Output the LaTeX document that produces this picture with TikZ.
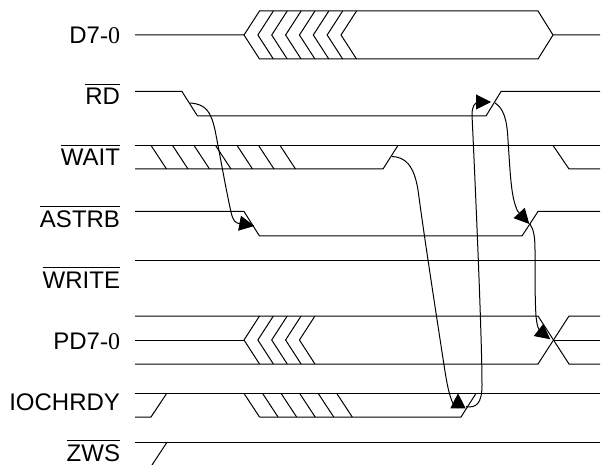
\documentclass[tikz,border=0pt]{standalone}
\usepackage{fontspec}
\setmainfont{Liberation Sans}
\newfontfamily\serifpart{Liberation Serif}
\usetikzlibrary{arrows.meta}
% signal name with a bar over it
\newcommand{\barred}[1]{\vbox{\hrule height 1pt\kern 3.2pt\hbox{#1}}}

\begin{document}
\begin{tikzpicture}[x=1pt, y=-1pt, line width=1pt, color=black,
    signame/.style={anchor=base east, inner sep=0pt, font=\fontsize{24}{28}\selectfont},
    cause/.style={line width=1pt, -{Triangle[length=15pt, width=15pt]}}]
        \useasboundingbox (0,0) rectangle (605,465);

        % Signal names
        \node[signame] (d) at (120.5,44) {D7{\serifpart -0}};
        \node[signame] (rd) at (120.5,104.7) {\barred{RD}};
        \node[signame] (wait) at (120.5,166) {\barred{WAIT}};
        \node[signame] (astrb) at (120.5,227.3) {\barred{ASTRB}};
        \node[signame] (write) at (120.5,288) {\barred{WRITE}};
        \node[signame] (pd) at (120.5,349) {PD7{\serifpart -0}};
        \node[signame] (iochrdy) at (120.5,410) {IOCHRDY};
        \node[signame] (zws) at (120.5,461) {\barred{ZWS}};

        % D7-0
        \draw (135,35) -- (244,35) -- (259.5,11) -- (538,11) -- (553,35) -- (600,35);
        \draw (244,35) -- (259.5,59) -- (538,59) -- (553,35);
        \foreach \i in {1,...,7}
        {
          \draw ({259.5+13.86*\i},11) -- ({244+13.86*\i},35) -- ({259.5+13.86*\i},59);
        }

        % RD
        \draw (135,91.5) -- (182,91.5) -- (197.5,116) -- (486,116) -- (501,91.5) -- (600,91.5);

        % WAIT
        \draw (135,145.4) -- (600,145.4);
        \draw (135,169) -- (383,169) -- (398,145.4);
        \draw (553,145.4) -- (569,169) -- (600,169);
        \foreach \i in {0,...,6}
        {
          \draw ({151+21.5*\i},145.4) -- ({166.5+21.5*\i},169);
        }

        % ASTRB
        \draw (135,211.5) -- (244,211.5) -- (259.5,236) -- (522,236) -- (538,211.5) -- (600,211.5);

        % WRITE
        \draw (135,260.4) -- (600,260.4);

        % PD7-0
        \draw (135,316) -- (538,316) -- (569,364) -- (600,364);
        \draw (135,364) -- (538,364) -- (569,316) -- (600,316);
        \draw (135,340) -- (244,340);
        \draw (553,340) -- (600,340);
        \foreach \i in {0,...,4}
        {
          \draw ({259.5+13.86*\i},316) -- ({244+13.86*\i},340) -- ({259.5+13.86*\i},364);
        }

        % IOCHRDY
        \draw (135,393.4) -- (600,393.4);
        \draw (135,417) -- (151,417) -- (166.7,393.4);
        \draw (259.5,417) -- (461,417) -- (476,393.4);
        \foreach \i in {0,...,5}
        {
          \draw ({244+18.55*\i},393.4) -- ({259.5+18.55*\i},417);
        }

        % ZWS
        \draw (135,442.7) -- (600,442.7);
        \draw (166.7,442.7) -- (152,465);

        % Ends of the cause and effect curves
        \coordinate (rdfall) at (190,103);
        \coordinate (astrbfall) at (254.3,226);
        \coordinate (waitrise) at (392,156.5);
        \coordinate (iochrise) at (458,393.3);
        \coordinate (iochout) at (466,406.7);
        \coordinate (rdrise) at (491,102);
        \coordinate (rdout) at (495,103);
        \coordinate (astrbrise) at (529.3,224);
        \coordinate (astrbout) at (530,224);
        \coordinate (pdcross) at (550.3,339.3);

        \draw[cause] (rdfall) .. controls (206,104) and (211,112) .. (215,130)
          .. controls (220,155) and (226,190) .. (231,212)
          .. controls (233,222) and (237,224) .. (241,223.5) -- (astrbfall);
        \draw[cause] (waitrise) .. controls (405,157) and (414,165) .. (418,190)
          .. controls (424,235) and (434,300) .. (444,365)
          .. controls (447,385) and (450,400) .. (455,407)
          .. controls (457,409) and (458,405) .. (iochrise);
        \draw[cause] (iochout) .. controls (476,408) and (482,404) .. (482,385)
          .. controls (482,340) and (476,200) .. (472,115)
          .. controls (472,106) and (475,102) .. (479,102) -- (rdrise);
        \draw[cause] (rdout) .. controls (503,108) and (507,118) .. (508,140)
          .. controls (510,170) and (511,195) .. (516,207)
          .. controls (517,211) and (519,213) .. (521,215) -- (astrbrise);
        \draw[cause] (astrbout) .. controls (534,230) and (535,238) .. (535,250)
          .. controls (535,280) and (535,300) .. (536,316)
          .. controls (537,326) and (538,329) .. (541,332) -- (pdcross);
      \end{tikzpicture}
\end{document}
